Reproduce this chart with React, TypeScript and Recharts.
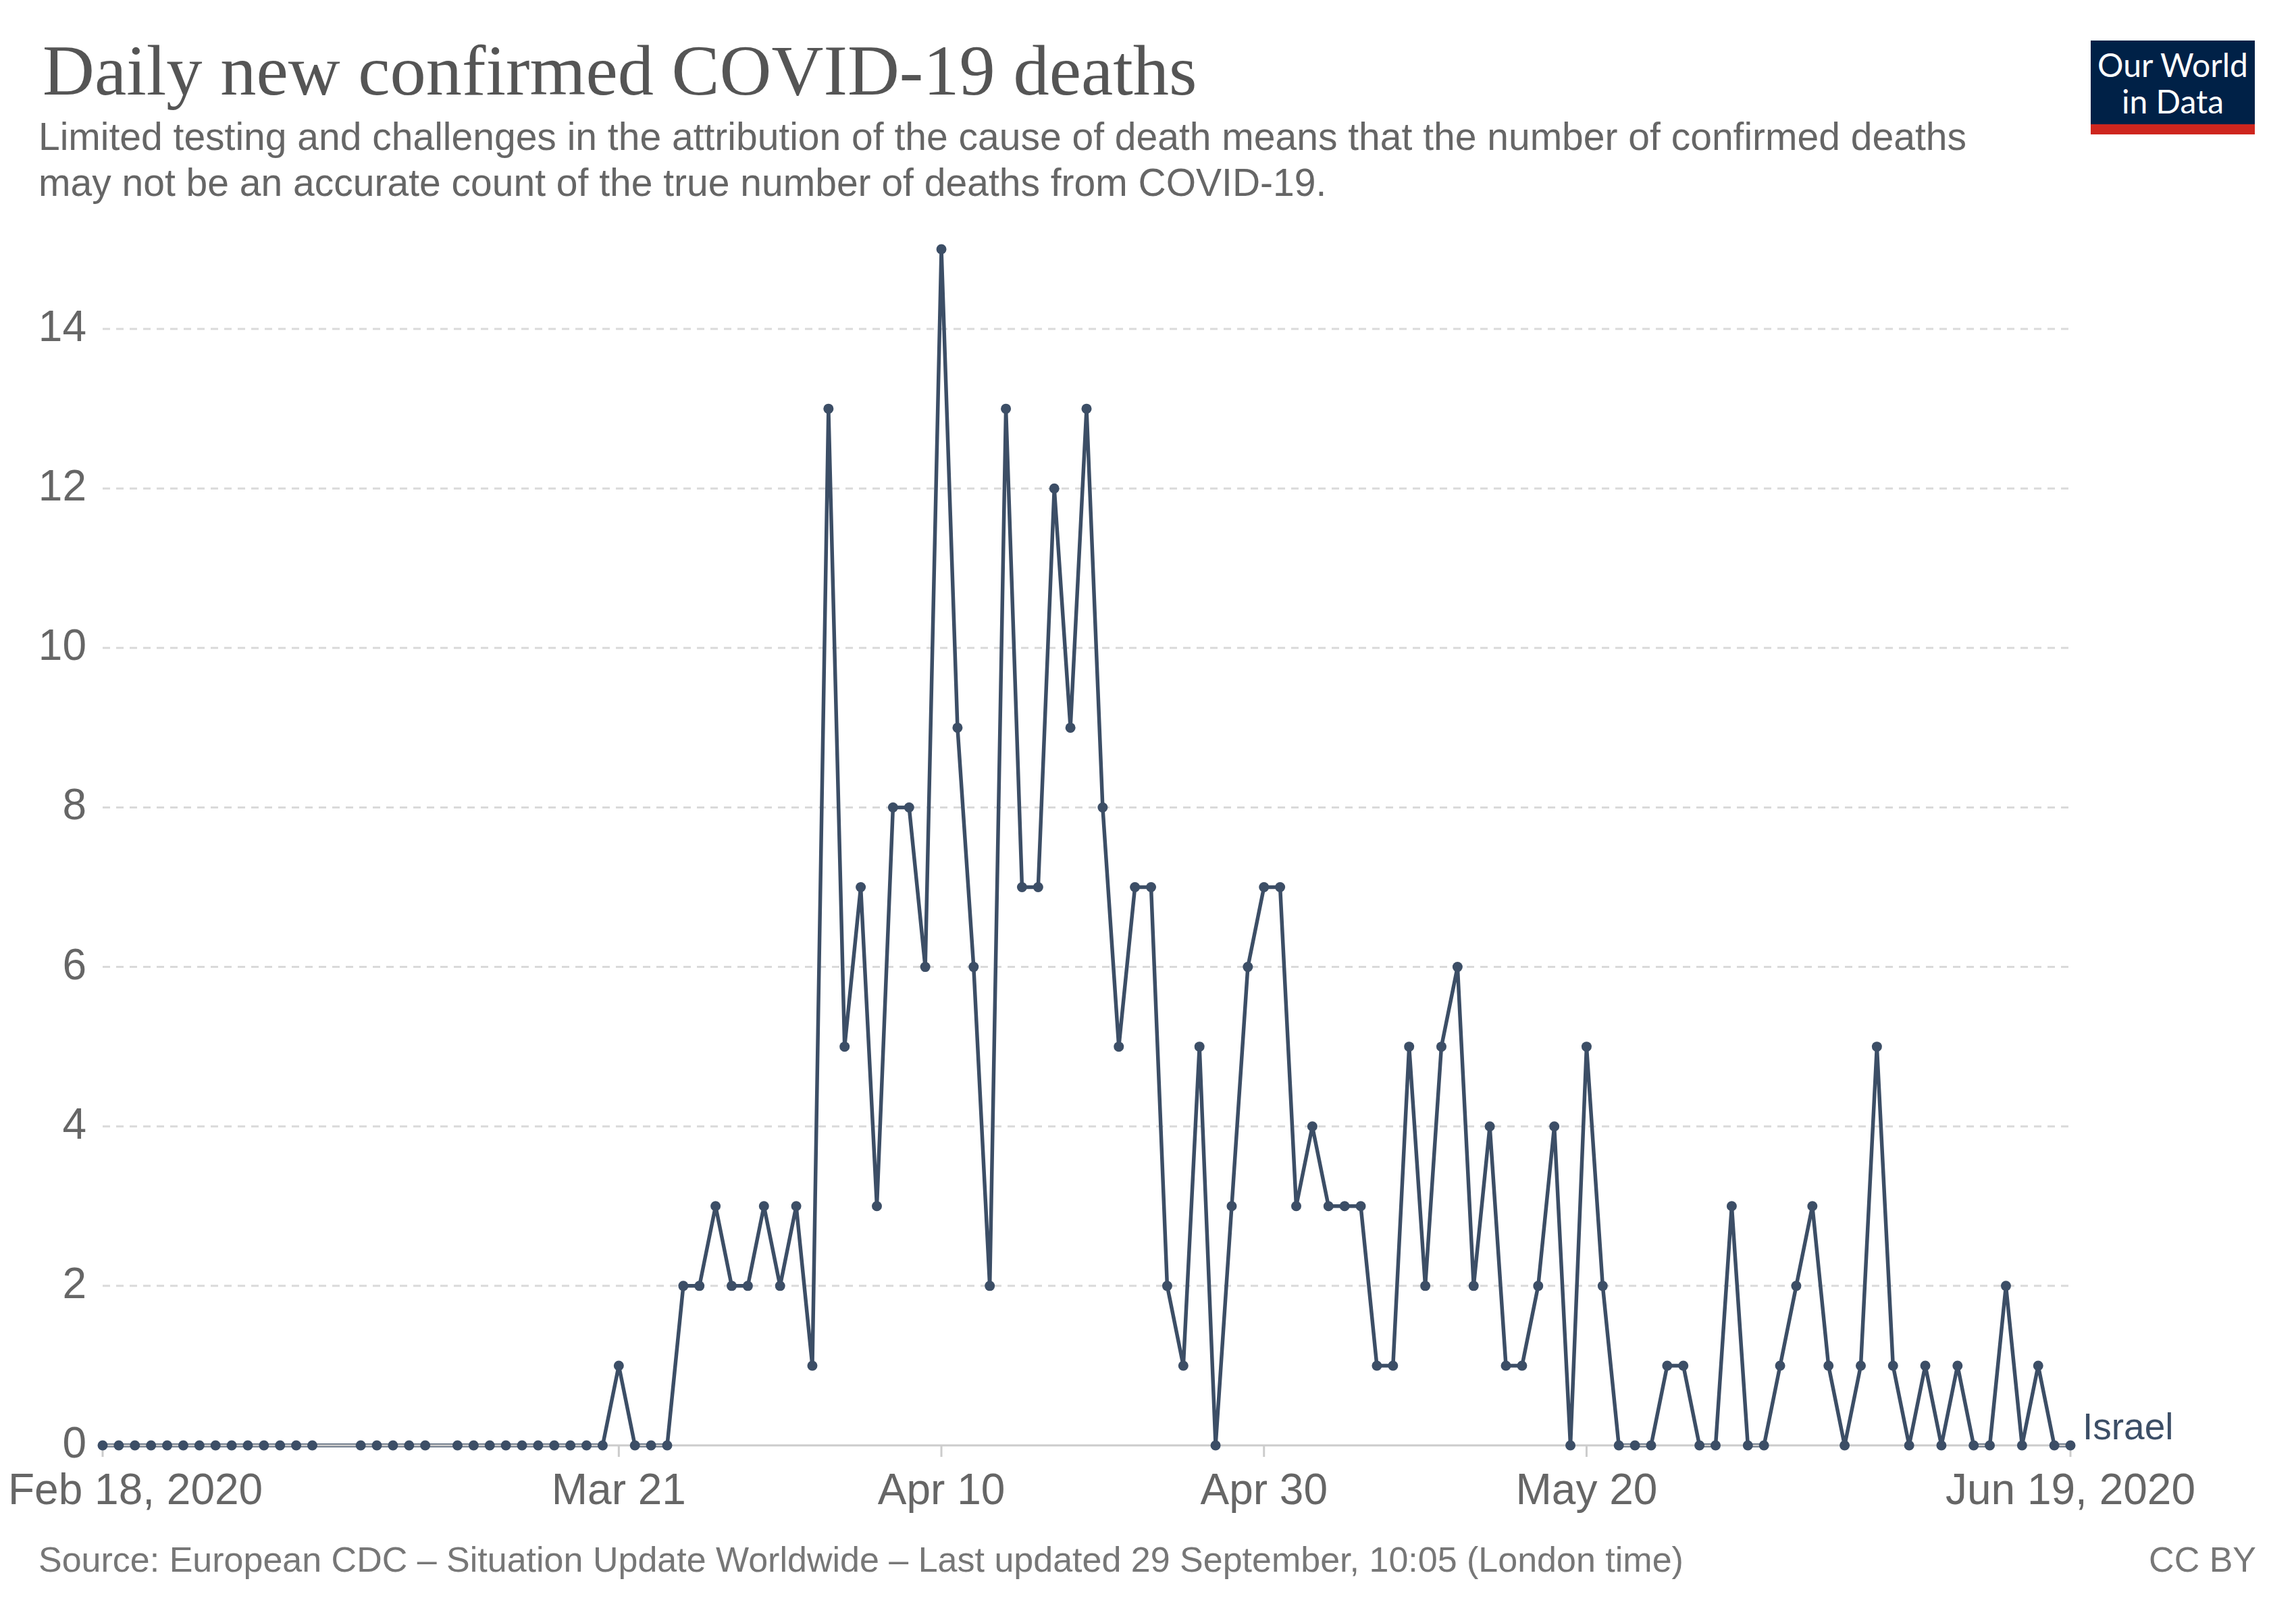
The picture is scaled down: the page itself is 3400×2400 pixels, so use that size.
import React from 'react';
import { LineChart, Line, XAxis, YAxis, CartesianGrid } from 'recharts';

// ---- data ----
const START_DATE = '2020-02-18';
const ENTITY = 'Israel';
// daily new confirmed deaths, one value per day from START_DATE (null = no report that day)
const deaths: (number | null)[] = [
  0, 0, 0, 0, 0, 0, 0, 0, 0, 0, 0, 0, 0, 0, null, null, 0, 0, 0, 0, 0, null,
  0, 0, 0, 0, 0, 0, 0, 0, 0, 0,
  1, 0, 0, 0, 2, 2, 3, 2, 2, 3, 2, 3, 1, 13, 5, 7, 3, 8, 8, 6,
  15, 9, 6, 2, 13, 7, 7, 12, 9, 13, 8, 5, 7, 7, 2, 1, 5, 0, 3, 6,
  7, 7, 3, 4, 3, 3, 3, 1, 1, 5, 2, 5, 6, 2, 4, 1, 1, 2, 4, 0,
  5, 2, 0, 0, 0, 1, 1, 0, 0, 3, 0, 0, 1, 2, 3, 1, 0, 1, 5, 1,
  0, 1, 0, 1, 0, 0, 2, 0, 1, 0, 0,
];
const xTickDates = ['2020-02-18', '2020-03-21', '2020-04-10', '2020-04-30', '2020-05-20', '2020-06-19'];
const xTickLabels = ['Feb 18, 2020', 'Mar 21', 'Apr 10', 'Apr 30', 'May 20', 'Jun 19, 2020'];
const yTicks = [0, 2, 4, 6, 8, 10, 12, 14];

const TITLE = 'Daily new confirmed COVID-19 deaths';
const SUBTITLE = [
  'Limited testing and challenges in the attribution of the cause of death means that the number of confirmed deaths',
  'may not be an accurate count of the true number of deaths from COVID-19.',
];
const SOURCE = 'Source: European CDC \u2013 Situation Update Worldwide \u2013 Last updated 29 September, 10:05 (London time)';
const LICENSE = 'CC BY';

// ---- build table ----
const DAY = 86400000;
const toTs = (s: string) => {
  const [y, m, d] = s.split('-').map(Number);
  return Date.UTC(y, m - 1, d);
};
const startTs = toTs(START_DATE);
const data = deaths.map((v, i) => ({ t: startTs + i * DAY, deaths: v }));
const xTicks = xTickDates.map(toTs);
const gridValues = yTicks.filter((v) => v > 0);
const LAST = deaths.length - 1;

const LINE = '#3c4e66';
const SANS = '"Liberation Sans", Arial, Helvetica, sans-serif';

const XTick = (props: any) => {
  const { x, y, payload } = props;
  const i = xTicks.indexOf(payload.value);
  const first = i === 0;
  return (
    <text
      x={first ? 12 : x}
      y={y}
      dy="0.71em"
      textAnchor={first ? 'start' : 'middle'}
      fill="#666"
      fontSize={64}
      fontFamily={SANS}
    >
      {xTickLabels[i]}
    </text>
  );
};

const YTick = (props: any) => {
  const { x, y, payload } = props;
  return (
    <text x={x} y={y} dy="0.28em" textAnchor="end" fill="#666" fontSize={64} fontFamily={SANS}>
      {payload.value}
    </text>
  );
};

const EntityLabel = (props: any) => {
  const { x, y, index } = props;
  if (index !== LAST) return null;
  return (
    <text x={x + 18} y={y - 9} fill={LINE} fontSize={55} fontFamily={SANS}>
      {ENTITY}
    </text>
  );
};

export default function App() {
  return (
    <div style={{ position: 'absolute', left: 0, top: 0, width: 3400, height: 2400, background: '#fff' }}>
      <LineChart
        width={3400}
        height={2400}
        data={data}
        margin={{ top: 369, right: 334, bottom: 200, left: 0 }}
      >
        <CartesianGrid
          vertical={false}
          horizontalValues={gridValues}
          stroke="#dadada"
          strokeWidth={3}
          strokeDasharray="11 9"
        />
        <XAxis
          dataKey="t"
          type="number"
          scale="time"
          domain={['dataMin', 'dataMax']}
          ticks={xTicks}
          height={60}
          axisLine={{ stroke: '#ccc', strokeWidth: 3 }}
          tickLine={{ stroke: '#ccc', strokeWidth: 3 }}
          tickSize={17}
          tickMargin={25}
          tick={<XTick />}
          interval={0}
        />
        <YAxis
          type="number"
          domain={[0, 15]}
          ticks={yTicks}
          width={152}
          axisLine={false}
          tickLine={false}
          tickSize={0}
          tickMargin={24}
          tick={<YTick />}
          interval={0}
        />
        <Line
          type="linear"
          dataKey="deaths"
          stroke={LINE}
          strokeWidth={5.5}
          connectNulls
          dot={{ r: 7.5, fill: LINE, stroke: 'none', strokeWidth: 0 }}
          activeDot={false}
          label={<EntityLabel />}
          isAnimationActive={false}
        />
      </LineChart>
      <svg
        width={3400}
        height={2400}
        style={{ position: 'absolute', left: 0, top: 0, pointerEvents: 'none' }}
      >
        <text x={63} y={140} fill="#555" fontSize={106.5} fontFamily='"Liberation Serif", "Times New Roman", serif'>
          {TITLE}
        </text>
        {SUBTITLE.map((s, i) => (
          <text key={i} x={57} y={222 + i * 68} fill="#666" fontSize={57} fontFamily={SANS}>
            {s}
          </text>
        ))}
        <rect x={3096} y={60} width={243} height={124} fill="#002147" />
        <rect x={3096} y={184} width={243} height={15} fill="#ce261e" />
        <text x={3217.5} y={114} textAnchor="middle" fill="#fff" fontSize={48} fontFamily="Lato, sans-serif">
          Our World
        </text>
        <text x={3217.5} y={168} textAnchor="middle" fill="#fff" fontSize={48} fontFamily="Lato, sans-serif">
          in Data
        </text>
        <text x={57} y={2327} fill="#777" fontSize={52} fontFamily={SANS}>
          {SOURCE}
        </text>
        <text x={3341} y={2327} textAnchor="end" fill="#777" fontSize={52} fontFamily={SANS}>
          {LICENSE}
        </text>
      </svg>
    </div>
  );
}
